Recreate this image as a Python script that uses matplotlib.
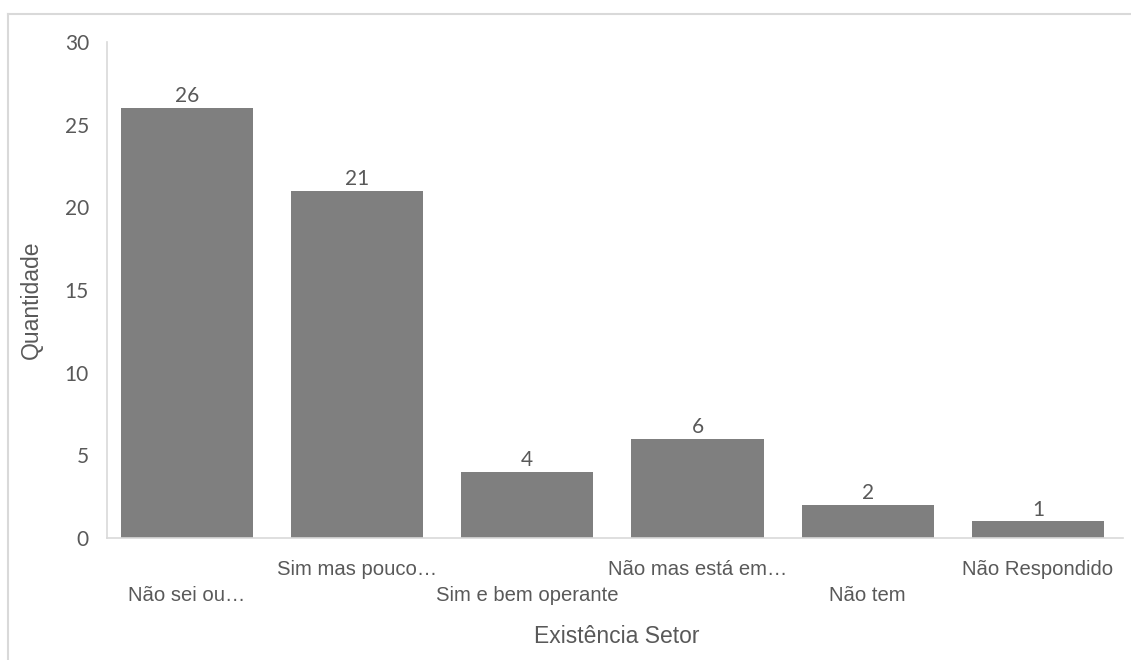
import matplotlib.pyplot as plt
from matplotlib.lines import Line2D
import numpy as np

categories = ['Não sei ou…', 'Sim mas pouco…', 'Sim e bem operante',
              'Não mas está em…', 'Não tem', 'Não Respondido']
quantidade = [26, 21, 4, 6, 2, 1]
y_ticks = [0, 5, 10, 15, 20, 25, 30]

bar_color = '#7f7f7f'
text_color = '#595959'
line_color = '#d9d9d9'

fig = plt.figure(figsize=(11.31, 6.6), dpi=100)
ax = fig.add_axes([0.0946, 0.1848, 0.8983, 0.7516])

# outer chart frame (only top and left edges are visible)
fig.add_artist(Line2D([8 / 1131, 1.01], [1 - 14 / 660, 1 - 14 / 660],
                      transform=fig.transFigure, color=line_color, lw=1.5))
fig.add_artist(Line2D([8 / 1131, 8 / 1131], [-0.01, 1 - 14 / 660],
                      transform=fig.transFigure, color=line_color, lw=1.5))

x = np.arange(len(categories))
bars = ax.bar(x, quantidade, width=0.776, color=bar_color, zorder=2)

for rect, v in zip(bars, quantidade):
    ax.text(rect.get_x() + rect.get_width() / 2, v + 0.12, str(v),
            ha='center', va='bottom', fontsize=15, color=text_color,
            family='Lato')

ax.set_xlim(-0.47, 5.50)
ax.set_ylim(0, 30)
ax.set_yticks(y_ticks)
ax.set_yticklabels([str(t) for t in y_ticks], family='Lato', fontsize=15,
                   color=text_color)

# alternate category labels drop to a second row
labels = [('\n' + c) if i % 2 == 0 else c for i, c in enumerate(categories)]
ax.set_xticks(x)
ax.set_xticklabels(labels, family='Liberation Sans', fontsize=14.6,
                   color=text_color, linespacing=1.45)

ax.tick_params(axis='y', length=0, pad=13)
ax.tick_params(axis='x', length=0, pad=16)

for side in ['top', 'right']:
    ax.spines[side].set_visible(False)
for side in ['left', 'bottom']:
    ax.spines[side].set_color(line_color)
    ax.spines[side].set_linewidth(1.2)

ax.set_xlabel('Existência Setor', family='Liberation Sans', fontsize=16.5,
              color=text_color)
ax.xaxis.set_label_coords(0.502, -0.176)
ax.set_ylabel('Quantidade', family='Liberation Sans', fontsize=16.5,
              color=text_color)
ax.yaxis.set_label_coords(-0.063, 0.48)

fig.savefig('out.png', dpi=100)
